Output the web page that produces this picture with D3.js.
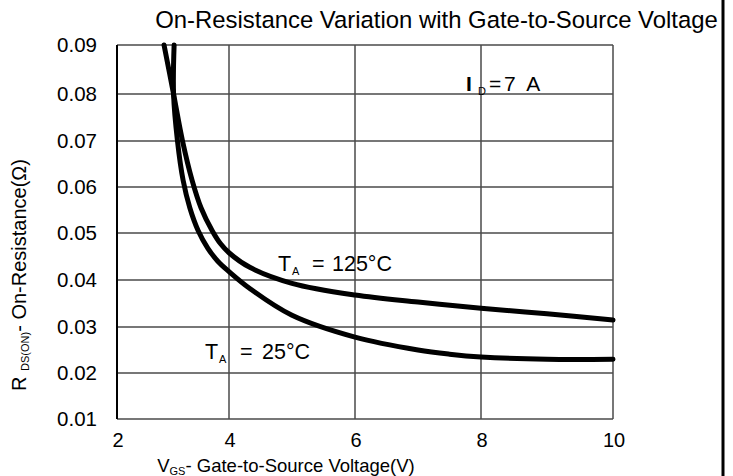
<!DOCTYPE html>
<html><head><meta charset="utf-8">
<script src="https://cdn.jsdelivr.net/npm/d3@7"></script>
<style>
body{margin:0;background:#fff}
svg text{font-family:"Liberation Sans",Arial,Helvetica,sans-serif;fill:#000;white-space:pre}
</style></head>
<body>
<svg id="chart" width="733" height="476"></svg>
<script>
// ---- data ----
const xTicks = [2, 4, 6, 8, 10];
const yTicks = [0.01, 0.02, 0.03, 0.04, 0.05, 0.06, 0.07, 0.08, 0.09];
const xTickLabels = ["2", "4", "6", "8", "10"];
const yTickLabels = ["0.01", "0.02", "0.03", "0.04", "0.05", "0.06", "0.07", "0.08", "0.09"];

const vgs25  = [3.02, 3.01, 3.08, 3.18, 3.3, 3.45, 3.62, 3.8, 4.0, 4.33, 5.0, 6.0, 7.0, 7.5, 8.0, 9.0, 10.0];
const rds25  = [0.090, 0.080, 0.070, 0.0615, 0.0555, 0.0505, 0.0468, 0.0440, 0.0418, 0.0382, 0.0325, 0.0278, 0.025, 0.0241, 0.0235, 0.023, 0.023];
const vgs125 = [2.84, 3.01, 3.17, 3.34, 3.5, 3.7, 3.85, 4.0, 4.33, 5.0, 6.0, 7.0, 8.0, 9.0, 10.0];
const rds125 = [0.090, 0.080, 0.070, 0.0615, 0.0555, 0.0505, 0.0477, 0.0458, 0.0427, 0.0393, 0.0368, 0.0353, 0.034, 0.0328, 0.0315];

// ---- drawing ----
const svg = d3.select("#chart");
const x = d3.scaleLinear().domain(xTicks).range([117, 229, 355, 481, 613]);
const y = d3.scaleLinear().domain(yTicks).range([419, 373, 327, 280, 233, 187, 141, 94, 45]);

const grid = svg.append("g");
grid.selectAll("line.h").data(yTicks).join("line")
  .attr("x1", x(2)).attr("x2", x(10))
  .attr("y1", d => y(d)).attr("y2", d => y(d))
  .attr("stroke", "#4a4a4a").attr("stroke-width", 1.5);
grid.selectAll("line.v").data(xTicks.slice(1)).join("line")
  .attr("x1", d => x(d)).attr("x2", d => x(d))
  .attr("y1", y(0.09)).attr("y2", y(0.01))
  .attr("stroke", "#4a4a4a").attr("stroke-width", 1.5);
grid.append("line").attr("x1", x(2)).attr("x2", x(2))
  .attr("y1", y(0.09)).attr("y2", y(0.01))
  .attr("stroke", "#000").attr("stroke-width", 2);

// tick labels
svg.append("g").selectAll("text").data(xTicks).join("text")
  .attr("x", d => x(d) + 1).attr("y", 447)
  .attr("text-anchor", "middle").attr("font-size", 20)
  .text((d, i) => xTickLabels[i]);
svg.append("g").selectAll("text").data(yTicks).join("text")
  .attr("x", 97).attr("y", d => y(d)).attr("dy", "0.36em")
  .attr("text-anchor", "end").attr("font-size", 20.5)
  .text((d, i) => yTickLabels[i]);

// curves
const line = d3.line().x(d => x(d[0])).y(d => y(d[1])).curve(d3.curveCatmullRom.alpha(0.5));
const series = [d3.zip(vgs25, rds25), d3.zip(vgs125, rds125)];
svg.append("g").selectAll("path").data(series).join("path")
  .attr("d", line).attr("fill", "none").attr("stroke", "#000")
  .attr("stroke-width", 5).attr("stroke-linecap", "round");

// title
svg.append("text").attr("x", 436.5).attr("y", 28).attr("text-anchor", "middle")
  .attr("font-size", 23.9).text("On-Resistance Variation with Gate-to-Source Voltage");

// axis titles
const xt = svg.append("text").attr("x", 286).attr("y", 472).attr("text-anchor", "middle").attr("font-size", 18.5);
xt.append("tspan").text("V");
xt.append("tspan").attr("font-size", 11).attr("dy", 3).text("GS");
xt.append("tspan").attr("dy", -3).text("- Gate-to-Source Voltage(V)");

const yt = svg.append("text").attr("transform", "translate(26,275) rotate(-90)")
  .attr("text-anchor", "middle").attr("font-size", 20);
yt.append("tspan").text("R ");
yt.append("tspan").attr("font-size", 11).attr("dy", 3).text("DS(ON)");
yt.append("tspan").attr("dy", -3).text("- On-Resistance(Ω)");

// annotations: main letter, subscript, "=", value
function label(px, subX, eqX, valX, py, main, sub, val, fs, bold) {
  const t = svg.append("text").attr("y", py).attr("font-size", fs);
  t.append("tspan").attr("x", px).attr("font-weight", bold ? "bold" : null).text(main);
  t.append("tspan").attr("x", subX).attr("font-size", 11).attr("dy", 4).text(sub);
  t.append("tspan").attr("x", eqX).attr("dy", -4).text("=");
  t.append("tspan").attr("x", valX).text(val);
}
label(466, 478, 489, 504, 91, "I", "D", "7  A", 21, true);
label(278, 292, 312, 332, 271, "T", "A", "125°C", 21.5, false);
label(205, 219, 240, 262, 359, "T", "A", "25°C", 21.5, false);

// right border
svg.append("line").attr("x1", 723).attr("x2", 723).attr("y1", 0).attr("y2", 476)
  .attr("stroke", "#000").attr("stroke-width", 3);
</script>
</body></html>
